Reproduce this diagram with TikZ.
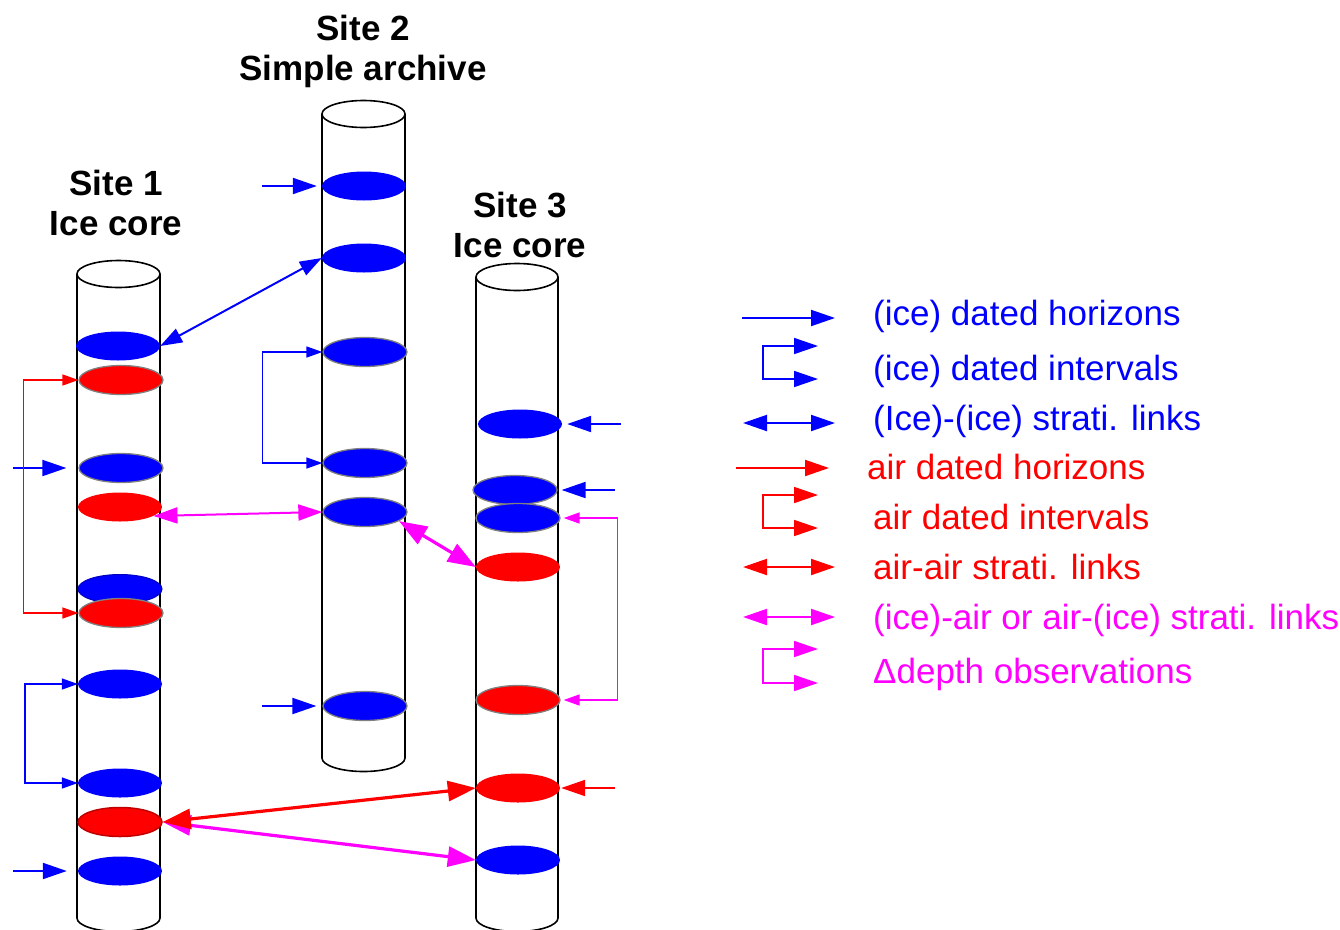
\documentclass[tikz,border=0pt]{standalone}
\usepackage{fontspec}
\setmainfont{Liberation Sans}
\usetikzlibrary{arrows.meta,shapes.geometric}
\definecolor{mag}{RGB}{255,0,255}

\tikzset{
  >={Triangle[length=24pt,width=16pt]},
  tube/.style={line width=1.6pt},
  band/.style={ellipse,minimum width=84pt,minimum height=29pt,inner sep=0pt},
  ice/.style={band,fill=blue},
  air/.style={band,fill=red},
  rim/.style={draw=gray,line width=1.3pt},
  hz/.style={line width=2pt,->},
  iv/.style={line width=1.6pt,{Triangle[length=16pt,width=11pt]}-{Triangle[length=16pt,width=11pt]}},
  lk/.style={line width=2pt,{Triangle[length=22pt,width=15pt]}-{Triangle[length=22pt,width=15pt]}},
  lkthick/.style={line width=3.2pt,{Triangle[length=28pt,width=20pt]}-{Triangle[length=28pt,width=20pt]}},
  title/.style={font=\fontsize{35}{42}\selectfont\bfseries,anchor=base,inner sep=0pt},
  key/.style={font=\fontsize{35}{42}\selectfont,anchor=base west,inner sep=0pt},
}

\begin{document}
\begin{tikzpicture}[x=1pt,y=-1pt]
\useasboundingbox (0,0) rectangle (1340,929);

% titles
\node[title] (t1a) at (116,195) {Site 1};
\node[title] (t1b) at (116,235) {Ice core};
\node[title] (t2a) at (363,40) {Site 2};
\node[title] (t2b) at (363,80) {Simple archive};
\node[title] (t3a) at (520,217) {Site 3};
\node[title] (t3b) at (520,257) {Ice core};

% cores
\draw[tube] (77,274) -- (77,918) arc[start angle=180,end angle=0,x radius=41.5,y radius=13.5] -- (160,274);
\draw[tube] (118.5,274) ellipse (41.5 and 13.5);
\draw[tube] (322,114) -- (322,758) arc[start angle=180,end angle=0,x radius=41.5,y radius=13.5] -- (405,114);
\draw[tube] (363.5,114) ellipse (41.5 and 13.5);
\draw[tube] (476,277) -- (476,918) arc[start angle=180,end angle=0,x radius=41,y radius=13.5] -- (558,277);
\draw[tube] (517,277) ellipse (41 and 13.5);

% site 1 layers
\node[ice] (s1a) at (118,346) {};
\node[air,rim] (s1b) at (121,380) {};
\node[ice,rim] (s1c) at (121,468) {};
\node[air] (s1d) at (120,507) {};
\node[ice,draw=blue!75!black,line width=1pt] (s1e) at (120,589) {};
\node[air,rim] (s1f) at (121,613) {};
\node[ice] (s1g) at (120,684) {};
\node[ice] (s1h) at (120,783) {};
\node[air,draw=red!75!black,line width=1.5pt] (s1i) at (120,822) {};
\node[ice] (s1j) at (120,871) {};

% site 2 layers
\node[ice] (s2a) at (364,186) {};
\node[ice] (s2b) at (364,258) {};
\node[ice,rim] (s2c) at (365,352) {};
\node[ice,rim] (s2d) at (365,463) {};
\node[ice,rim] (s2e) at (365,512) {};
\node[ice,rim] (s2f) at (365,706) {};

% site 3 layers
\node[ice] (s3a) at (520,424) {};
\node[ice,rim] (s3b) at (515,490) {};
\node[ice,rim] (s3c) at (518,518) {};
\node[air] (s3d) at (518,567) {};
\node[air,rim] (s3e) at (518,700) {};
\node[air] (s3f) at (518,788) {};
\node[ice] (s3g) at (518,860) {};

% free ends of the dated horizons
\coordinate (h1) at (13,468);
\coordinate (h2) at (13,871);
\coordinate (h3) at (262,186);
\coordinate (h4) at (262,706);
\coordinate (h5) at (621,424);
\coordinate (h6) at (615,490);
\coordinate (h7) at (615,788);

\draw[hz,blue,shorten >=12pt] (h1) -- (s1c.west);
\draw[hz,blue,shorten >=11pt] (h2) -- (s1j.west);
\draw[hz,blue,shorten >=5pt] (h3) -- (s2a.west);
\draw[hz,blue,shorten >=6pt] (h4) -- (s2f.west);
\draw[hz,blue,shorten >=5pt] (h5) -- (s3a.east);
\draw[hz,blue,shorten >=4pt] (h6) -- (s3b.east);
\draw[hz,red,shorten >=1pt] (h7) -- (s3f.east);

% intervals
\draw[iv,red] (s1b.west) -- ++(-55,0) |- (s1f.west);
\draw[iv,blue] (s1g.west) -- ++(-53,0) |- (s1h.west);
\draw[iv,blue] (s2c.west) -- ++(-60,0) |- (s2d.west);
\draw[iv,mag,shorten <=3pt,shorten >=3pt] (s3c.east) -- ++(57,0) |- (s3e.east);

% stratigraphic links
\draw[lk,blue] (s1a.east) -- (s2b.west);
\draw[line width=2pt,mag,<->] (s1d.-15) -- (s2e.west);
\draw[lkthick,mag] (s2e.-15) -- (s3d.west);
\draw[lkthick,mag] (s1i.east) -- (s3g.west);
\draw[lkthick,red] (s1i.east) -- (s3f.west);

% legend
\draw[hz,blue] (742,318) -- (835,318);
\draw[line width=1.6pt,blue,<->] (818,346) -- (763,346) -- (763,379) -- (818,379);
\draw[line width=2pt,blue,<->] (743,423) -- (835,423);
\draw[hz,red] (736,468) -- (829,468);
\draw[line width=1.6pt,red,<->] (818,495) -- (763,495) -- (763,528) -- (818,528);
\draw[line width=2pt,red,<->] (743,567) -- (835,567);
\draw[line width=2pt,mag,<->] (743,617) -- (835,617);
\draw[line width=1.6pt,mag,<->] (818,649) -- (763,649) -- (763,683) -- (818,683);

\node[key,blue] (k1) at (873,325) {(ice) dated horizons};
\node[key,blue] (k2) at (873,380) {(ice) dated intervals};
\node[key,blue] (k3) at (873,430) {(Ice)-(ice) strati. links};
\node[key,red] (k4) at (867,479) {air dated horizons};
\node[key,red] (k5) at (873,529) {air dated intervals};
\node[key,red] (k6) at (873,579) {air-air strati. links};
\node[key,mag] (k7) at (873,629) {(ice)-air or air-(ice) strati. links};
\node[key,mag] (k8) at (873,683) {Δdepth observations};

\end{tikzpicture}
\end{document}
